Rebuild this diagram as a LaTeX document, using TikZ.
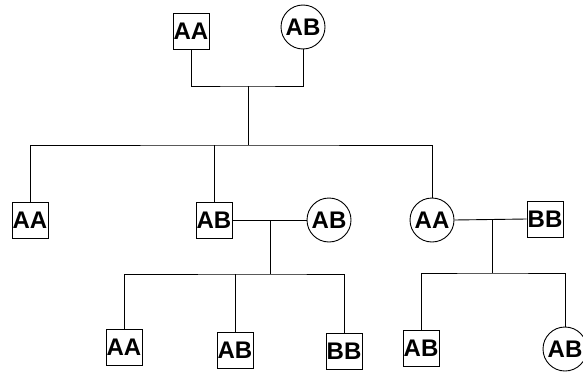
\documentclass[tikz,border=0pt]{standalone}
\usepackage{fontspec}
\setmainfont{Liberation Sans}
\tikzset{
  genotype/.style={inner sep=0pt,font=\fontsize{24}{24}\selectfont\bfseries},
  male/.style={genotype,draw,rectangle,minimum size=36pt},
  female/.style={genotype,draw,circle,minimum size=44pt}
}
\begin{document}
\begin{tikzpicture}[x=1pt,y=-1pt,line width=0.9pt]
\useasboundingbox (0,0) rectangle (583,372);

% first generation
\node[male]   (f1) at (191,31) {AA};
\node[female] (m1) at (303,27) {AB};
\coordinate (j1) at (248,86);
\coordinate (s1) at (248,145);
\draw (f1.south) |- (j1) -| (m1.south);
\draw (j1) -- (s1);

% second generation
\node[male]   (c1) at (30,220) {AA};
\node[male]   (c2) at (214,220) {AB};
\node[female] (sp2) at (329,220) {AB};
\node[female] (c3) at (432,220) {AA};
\node[male]   (sp3) at (545,219) {BB};
\draw (c1.north) |- (s1) -| (c3.north);
\draw (c2.north) -- (c2.north |- s1);

% children of the middle couple
\coordinate (j2) at (270,220);
\coordinate (s2) at (270,274);
\draw (c2.east) -- (sp2.west);
\draw (j2) -- (s2);
\node[male] (g1) at (124,347) {AA};
\node[male] (g2) at (235,350) {AB};
\node[male] (g3) at (344,351) {BB};
\draw (g1.north) |- (s2) -| (g3.north);
\draw (g2.north) -- (g2.north |- s2);

% children of the right couple
\coordinate (j3) at (492,219);
\coordinate (s3) at (492,273);
\draw (c3.east) -- (sp3.west);
\draw (j3) -- (s3);
\node[male]   (g4) at (421,348) {AB};
\node[female] (g5) at (565,349) {AB};
\draw (g4.north) |- (s3) -| (g5.north);
\end{tikzpicture}
\end{document}
